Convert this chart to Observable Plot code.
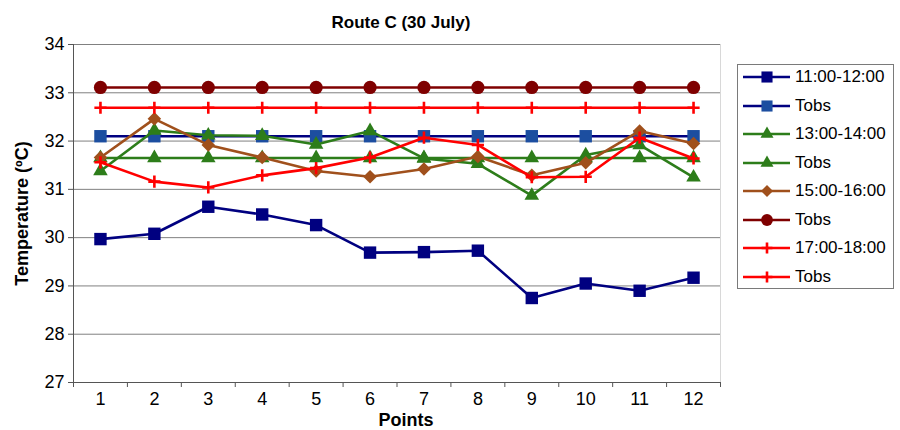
<!DOCTYPE html>
<html><head><meta charset="utf-8">
<script src="https://cdn.jsdelivr.net/npm/d3@7"></script>
<script src="https://cdn.jsdelivr.net/npm/@observablehq/plot@0.6"></script>
<style>
body{margin:0;background:#fff;}
#wrap{position:relative;width:900px;height:430px;font-family:"Liberation Sans",Arial,Helvetica,sans-serif;background:#fff;}
#wrap svg.plot{position:absolute;left:0;top:0;}
#legend{position:absolute;left:737px;top:64px;width:157px;height:225px;border:1px solid #7a7a7a;box-sizing:border-box;background:#fff;}
.lrow{position:absolute;left:4px;height:20px;display:flex;align-items:center;font-size:17px;color:#000;white-space:nowrap;}
.lrow svg{margin-right:2px;}
</style></head><body><div id="wrap"></div>
<script>
const points = [1, 2, 3, 4, 5, 6, 7, 8, 9, 10, 11, 12];
const t1100 = [29.97, 30.08, 30.64, 30.48, 30.26, 29.69, 29.70, 29.73, 28.75, 29.05, 28.90, 29.17];
const tobs1100 = [32.1, 32.1, 32.1, 32.1, 32.1, 32.1, 32.1, 32.1, 32.1, 32.1, 32.1, 32.1];
const t1300 = [31.38, 32.22, 32.12, 32.11, 31.93, 32.21, 31.64, 31.53, 30.87, 31.71, 31.92, 31.25];
const tobs1300 = [31.65, 31.65, 31.65, 31.65, 31.65, 31.65, 31.65, 31.65, 31.65, 31.65, 31.65, 31.65];
const t1500 = [31.66, 32.46, 31.92, 31.66, 31.38, 31.26, 31.42, 31.68, 31.29, 31.55, 32.21, 31.95];
const tobs1500 = [33.11, 33.11, 33.11, 33.11, 33.11, 33.11, 33.11, 33.11, 33.11, 33.11, 33.11, 33.11];
const t1700 = [31.56, 31.16, 31.04, 31.29, 31.44, 31.66, 32.07, 31.92, 31.25, 31.26, 32.07, 31.64];
const tobs1700 = [32.69, 32.69, 32.69, 32.69, 32.69, 32.69, 32.69, 32.69, 32.69, 32.69, 32.69, 32.69];
const yTicks = [27, 28, 29, 30, 31, 32, 33, 34];
const seriesNames = ["11:00-12:00", "Tobs", "13:00-14:00", "Tobs", "15:00-16:00", "Tobs", "17:00-18:00", "Tobs"];
const seriesValues = [t1100, tobs1100, t1300, tobs1300, t1500, tobs1500, t1700, tobs1700];
const titleText = "Route C (30 July)";
const yLabel = "Temperature (ºC)";
const xLabel = "Points";

// styles
const lineColors = ["#000080", "#000080", "#2d7d1a", "#2d7d1a", "#a0501c", "#7f0000", "#ff0000", "#ff0000"];
const markColors = ["#000080", "#1c4ea0", "#2d7d1a", "#2d7d1a", "#a0501c", "#7f0000", "#ff0000", "#ff0000"];
const symbols = ["square", "square", "triangle", "triangle", "diamond2", "circle", "plus", "plus"];
const radii = [7, 7, 5.4, 5.4, 6.1, 6.6, 4, 4];
const d3Symbols = {square: d3.symbolSquare, triangle: d3.symbolTriangle, diamond2: d3.symbolDiamond2, circle: d3.symbolCircle, plus: d3.symbolPlus};

const seriesData = seriesValues.map((vals, k) => points.map((p, i) => ({x: p, y: vals[i], k})));

const marks = [
  Plot.gridY(yTicks, {stroke: "#808080", strokeOpacity: 1, strokeWidth: 1}),
  Plot.ruleX([points[points.length - 1] + 0.5], {stroke: "#d8d8d8"}),
  Plot.axisY(yTicks, {tickSize: 5, tickPadding: 4, label: null, stroke: "#555", fontSize: 18}),
  Plot.axisX(d3.range(0.5, points.length + 1, 1), {tickSize: 5, tickFormat: () => "", label: null, stroke: "#555"}),
  Plot.axisX(points, {tickSize: 0, tickPadding: 10, label: null, fontSize: 18}),
  Plot.ruleX([points[0] - 0.5], {stroke: "#555"}),
  Plot.ruleY([yTicks[0]], {stroke: "#555"}),
];
seriesData.forEach((d, k) => {
  marks.push(Plot.line(d, {x: "x", y: "y", stroke: lineColors[k], strokeWidth: 2.6}));
  const isStroke = symbols[k] === "plus";
  marks.push(Plot.dot(d, {x: "x", y: "y", symbol: () => symbols[k], r: radii[k],
    fill: isStroke ? "none" : markColors[k], stroke: isStroke ? markColors[k] : "none", strokeWidth: isStroke ? 2.6 : 0}));
});
marks.push(Plot.text([titleText], {frameAnchor: "top", lineAnchor: "middle", textAnchor: "middle", dy: -22, dx: 4, fontWeight: "bold", fontSize: 17}));
marks.push(Plot.text([yLabel], {frameAnchor: "left", textAnchor: "middle", lineAnchor: "middle", rotate: -90, dx: -51, fontWeight: "bold", fontSize: 18}));
marks.push(Plot.text([xLabel], {frameAnchor: "bottom", lineAnchor: "middle", textAnchor: "middle", dy: 38, dx: 9, fontWeight: "bold", fontSize: 18}));

const chart = Plot.plot({
  width: 730, height: 430,
  marginLeft: 73, marginRight: 10, marginTop: 44, marginBottom: 48,
  x: {domain: [0.5, points.length + 0.5], axis: null},
  y: {domain: [yTicks[0], yTicks[yTicks.length - 1]], axis: null},
  style: {fontFamily: "'Liberation Sans', Arial, Helvetica, sans-serif", fontSize: "18px", color: "#000", background: "#fff", overflow: "visible"},
  marks
});
chart.classList.add("plot");
const wrap = document.getElementById("wrap");
wrap.appendChild(chart);

// legend
const legend = document.createElement("div");
legend.id = "legend";
seriesNames.forEach((name, k) => {
  const row = document.createElement("div");
  row.className = "lrow";
  row.style.top = (13 - 10 - 1 + k * 28.57) + "px";
  const svg = d3.create("svg").attr("width", 51).attr("height", 20);
  svg.append("line").attr("x1", 1).attr("x2", 48).attr("y1", 10).attr("y2", 10).attr("stroke", lineColors[k]).attr("stroke-width", 2.6);
  const isStroke = symbols[k] === "plus";
  const size = Math.PI * radii[k] * radii[k] * 0.8;
  svg.append("path").attr("d", d3.symbol(d3Symbols[symbols[k]], size)()).attr("transform", "translate(25,10)")
    .attr("fill", isStroke ? "none" : markColors[k]).attr("stroke", isStroke ? markColors[k] : "none").attr("stroke-width", 2.6);
  row.appendChild(svg.node());
  const span = document.createElement("span");
  span.textContent = name;
  row.appendChild(span);
  legend.appendChild(row);
});
wrap.appendChild(legend);
</script></body></html>
